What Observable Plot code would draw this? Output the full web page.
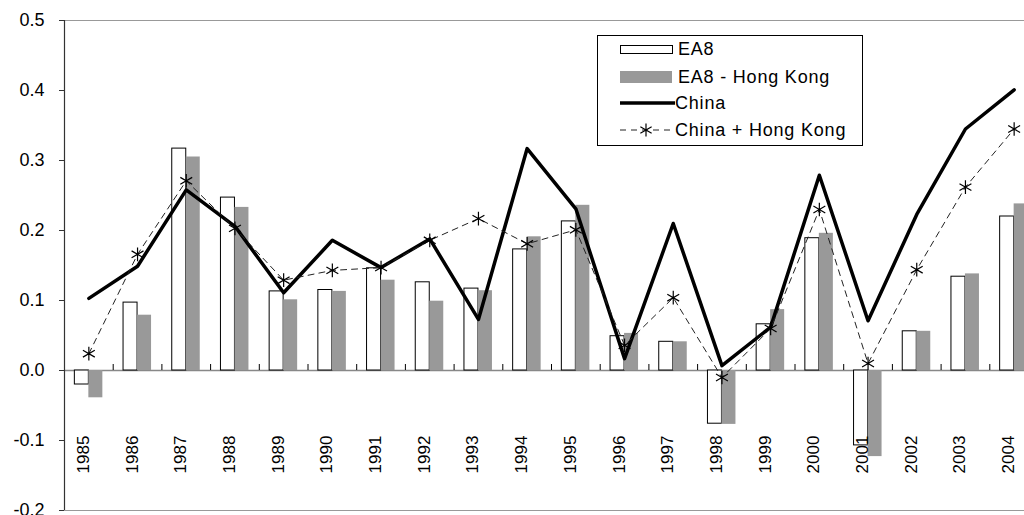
<!DOCTYPE html>
<html><head><meta charset="utf-8">
<script src="https://cdn.jsdelivr.net/npm/d3@7"></script>
<script src="https://cdn.jsdelivr.net/npm/@observablehq/plot@0.6"></script>
<style>
html,body{margin:0;padding:0;overflow:hidden;background:#fff;width:1024px;height:515px}
#wrap{position:relative;width:1024px;height:515px;overflow:hidden}
#wrap > svg.plot{max-width:none !important;height:515px !important;display:block}
#legend{position:absolute;left:597px;top:35px}
</style></head><body><div id="wrap"></div>
<script>
const years = [1985,1986,1987,1988,1989,1990,1991,1992,1993,1994,1995,1996,1997,1998,1999,2000,2001,2002,2003,2004];
const ea8 = [-0.020,0.097,0.317,0.247,0.113,0.115,0.146,0.126,0.117,0.173,0.213,0.049,0.041,-0.076,0.066,0.189,-0.107,0.056,0.134,0.220];
const ea8LessHK = [-0.039,0.079,0.305,0.233,0.101,0.113,0.129,0.099,0.114,0.191,0.236,0.053,0.041,-0.077,0.087,0.196,-0.123,0.056,0.138,0.238];
const china = [0.103,0.149,0.258,0.206,0.111,0.186,0.147,0.188,0.073,0.317,0.231,0.017,0.210,0.007,0.062,0.279,0.071,0.223,0.345,0.401];
const chinaHK = [0.024,0.166,0.271,0.203,0.129,0.143,0.147,0.186,0.217,0.181,0.201,0.036,0.104,-0.010,0.060,0.230,0.010,0.144,0.262,0.345];
const yTicks = [-0.2,-0.1,0,0.1,0.2,0.3,0.4,0.5];
const seriesNames = ["EA8","EA8 - Hong Kong","China","China + Hong Kong"];

const rows = years.map((y,i)=>({year:String(y), ea8:ea8[i], ea8hk:ea8LessHK[i], china:china[i], chinaHK:chinaHK[i]}));

const W = 1040, mL = 64, mR = 2;
const step = (W - mL - mR) / years.length;
const font = "'Liberation Sans', Arial, sans-serif";

const chart = Plot.plot({
  width: W, height: 515,
  marginLeft: mL, marginRight: mR, marginTop: 20, marginBottom: 5,
  style: {fontFamily: font, fontSize: "18px", color: "#000", background: "#fff", overflow: "visible", maxWidth: "none"},
  x: {type: "band", domain: years.map(String), paddingInner: 0.7125, paddingOuter: 0.35625, round: false, axis: null},
  y: {domain: [-0.2, 0.5], axis: null},
  marks: [
    Plot.frame({stroke: "#999"}),
    Plot.ruleY([0], {stroke: "#888", strokeWidth: 1.5}),
    Plot.barY(rows, {x: "year", y: "ea8", fill: "#fff", stroke: "#000", strokeWidth: 1, dx: -7}),
    Plot.barY(rows, {x: "year", y: "ea8hk", fill: "#999", dx: 7}),
    Plot.ruleX(rows, {x: "year", y1: 0, y2: 0, insetBottom: 6, dx: -step/2, stroke: "#000"}),
    Plot.ruleX([rows[0]], {x: "year", dx: -step/2, stroke: "#333", strokeWidth: 1.2}),
    Plot.axisY({ticks: yTicks, tickFormat: d => d.toFixed(1), tickSize: 5, tickPadding: 15, fontSize: 18, label: null, stroke: "#333"}),
    Plot.text(rows, {x: "year", text: "year", frameAnchor: "bottom", dy: -56, rotate: -90, fontSize: 17, fill: "#000"}),
    Plot.line(rows, {x: "year", y: "china", stroke: "#000", strokeWidth: 3.5}),
    Plot.line(rows, {x: "year", y: "chinaHK", stroke: "#222", strokeWidth: 1, strokeDasharray: "6,5"}),
    Plot.dot(rows, {x: "year", y: "chinaHK", symbol: "asterisk", r: 6.5, stroke: "#000", strokeWidth: 1.2})
  ]
});
chart.style.maxWidth = "none";
const wrap = document.getElementById("wrap");
wrap.appendChild(chart);

// Legend
const ns = "http://www.w3.org/2000/svg";
const lg = document.createElementNS(ns, "svg");
lg.setAttribute("id", "legend");
lg.setAttribute("width", 267);
lg.setAttribute("height", 112);
lg.style.fontFamily = font;
function el(tag, attrs, parent) {
  const e = document.createElementNS(ns, tag);
  for (const k in attrs) e.setAttribute(k, attrs[k]);
  (parent || lg).appendChild(e);
  return e;
}
el("rect", {x: 0.5, y: 0.5, width: 265, height: 110, fill: "#fff", stroke: "#000"});
el("rect", {x: 23.5, y: 10.5, width: 52, height: 8, fill: "#fff", stroke: "#000"});
el("rect", {x: 23, y: 36, width: 52, height: 12, fill: "#999"});
el("line", {x1: 23, x2: 78, y1: 68, y2: 68, stroke: "#000", "stroke-width": 3.5});
el("line", {x1: 23, x2: 78, y1: 95, y2: 95, stroke: "#222", "stroke-width": 1, "stroke-dasharray": "6,5"});
const sr = 6.5, s3 = Math.sqrt(3) / 2;
el("path", {d: `M49,${95-sr}L49,${95+sr}M${49-sr*s3},${95-sr/2}L${49+sr*s3},${95+sr/2}M${49-sr*s3},${95+sr/2}L${49+sr*s3},${95-sr/2}`, stroke: "#000", "stroke-width": 1.2, fill: "none"});
const ty = [14, 42, 68, 95], tx = [81, 81, 78, 78];
seriesNames.forEach((n, i) => {
  const t = el("text", {x: tx[i], y: ty[i], "dominant-baseline": "central", "font-size": 18, "letter-spacing": "0.8px", fill: "#000"});
  t.textContent = n;
});
wrap.appendChild(lg);
</script>
</body></html>
